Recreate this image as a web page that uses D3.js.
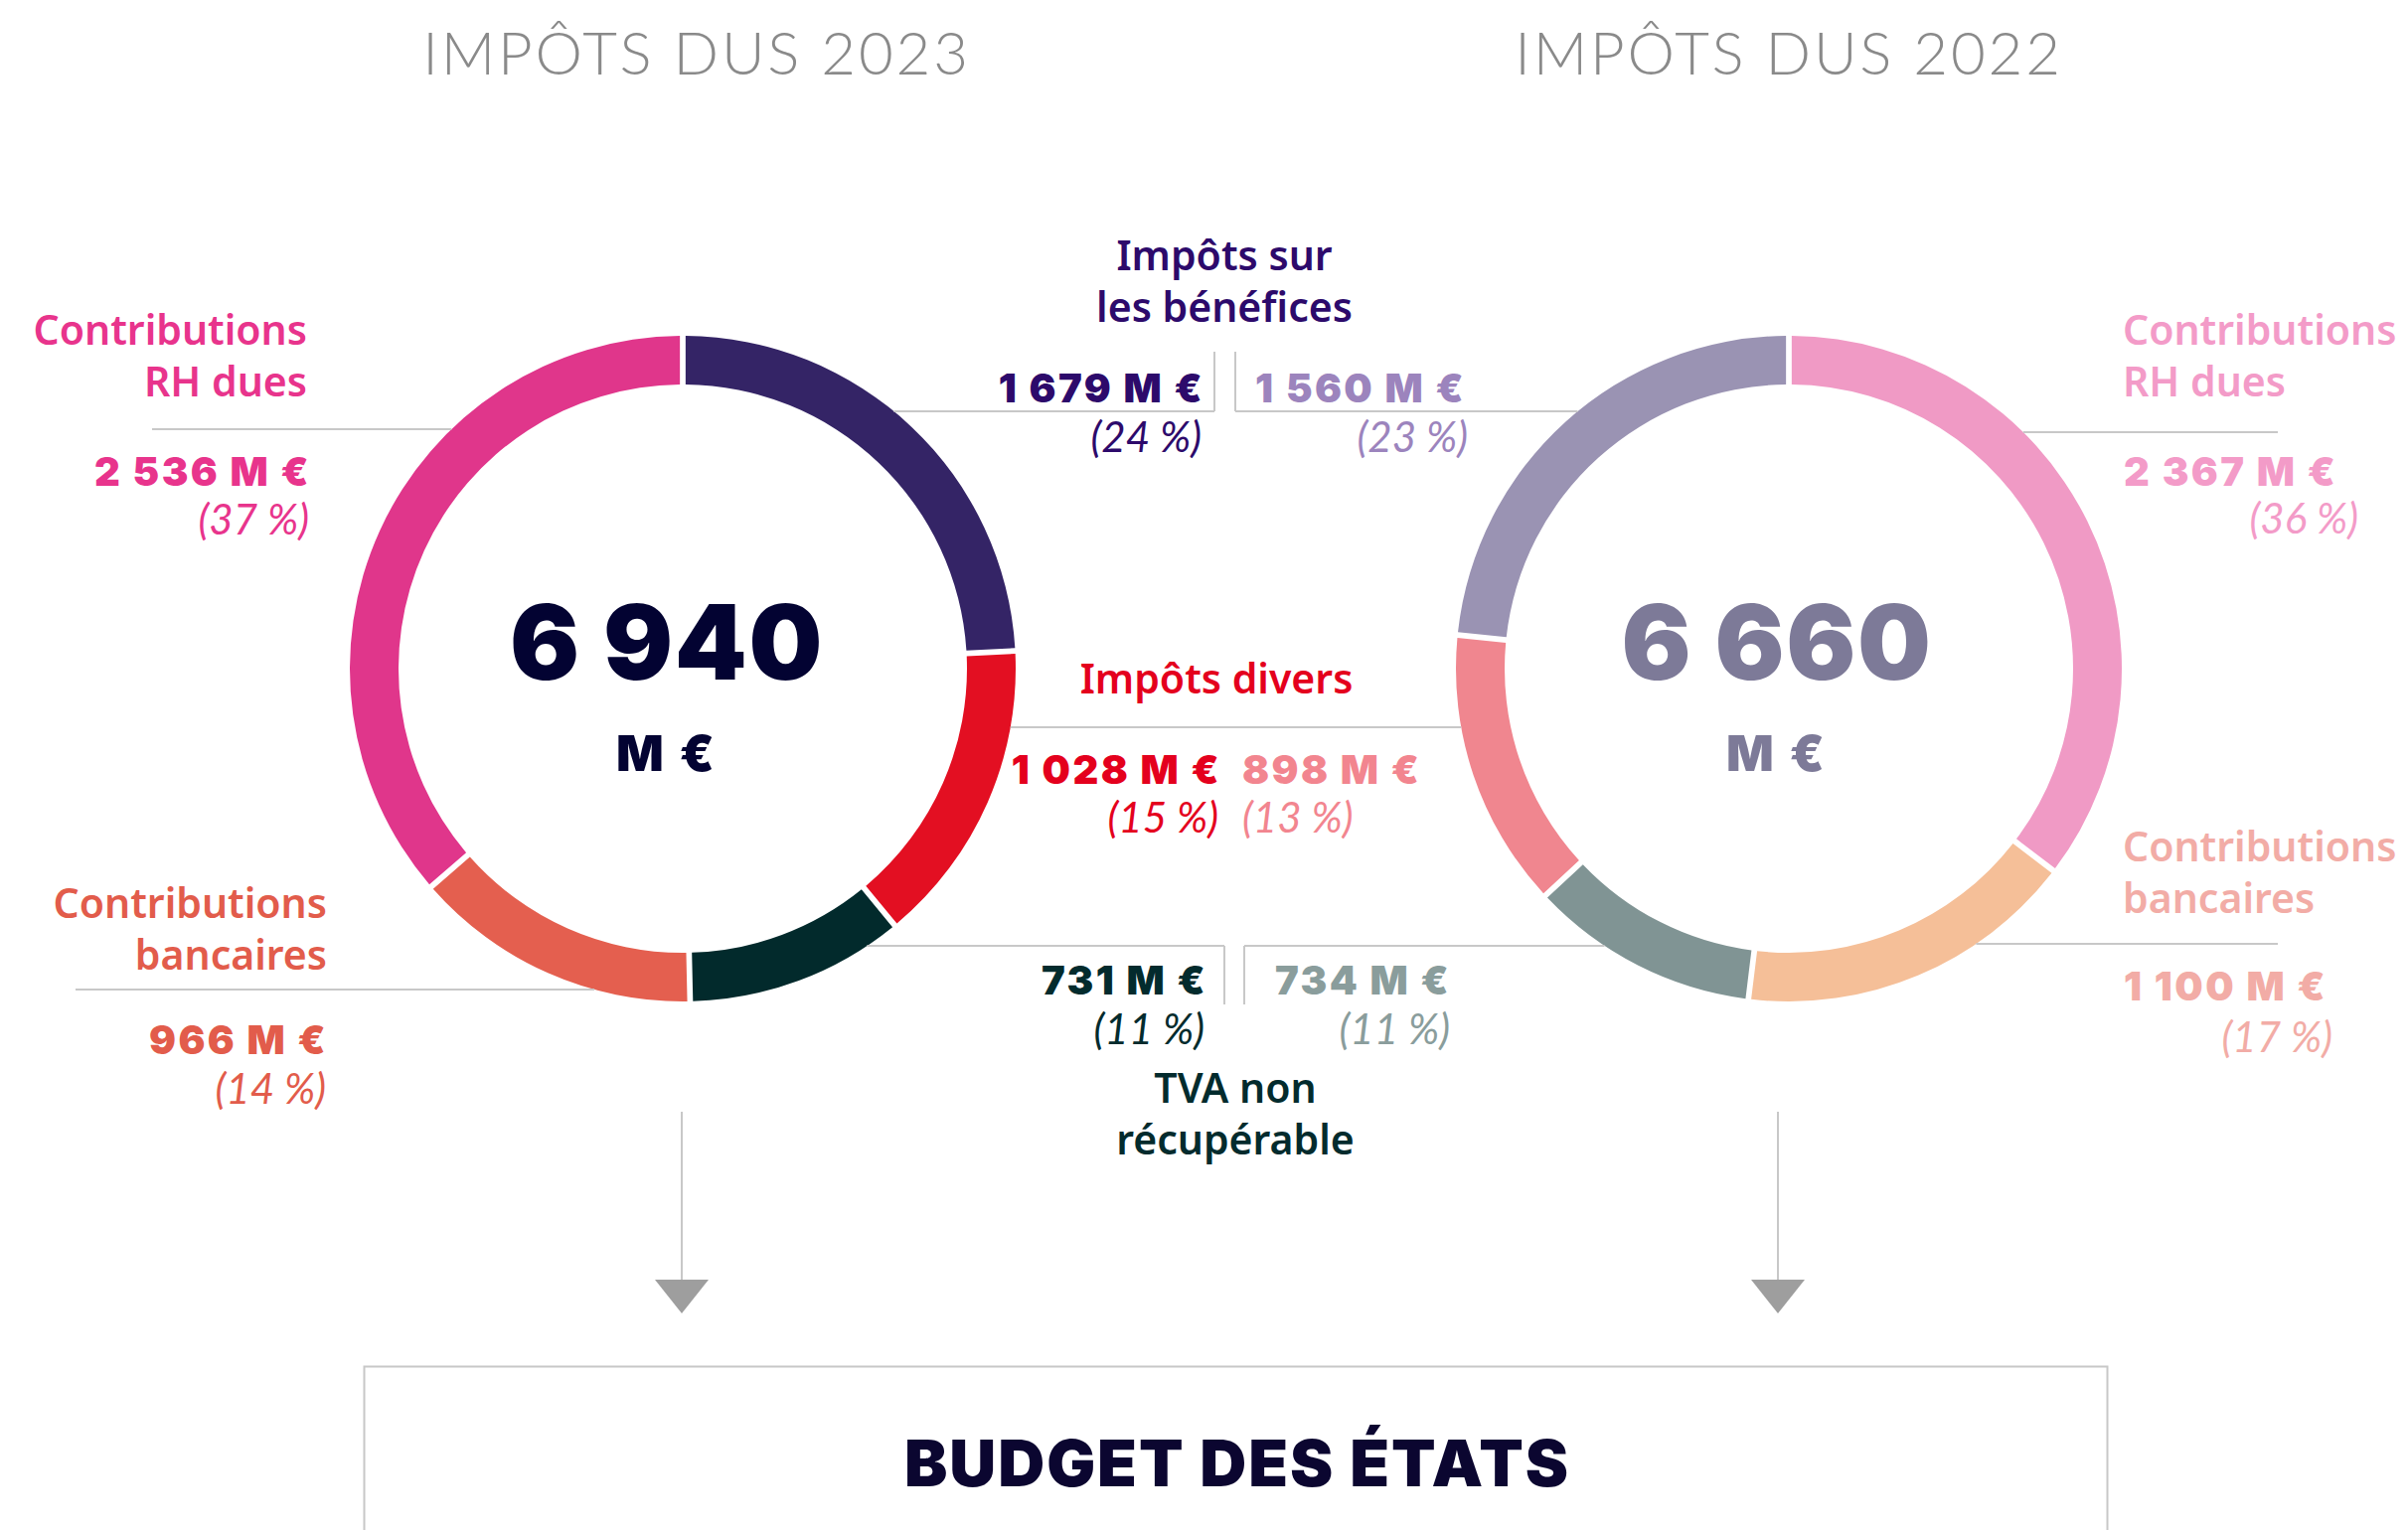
<!DOCTYPE html>
<html>
<head>
<meta charset="utf-8">
<script src="https://cdn.jsdelivr.net/npm/d3@7"></script>
<style>
  body { margin: 0; background: #fff; }
  .name { font-family: "Noto Sans", sans-serif; font-weight: 600; font-size: 41px; }
  .val { font-family: Inter, sans-serif; font-weight: 900; font-size: 40px; letter-spacing: 0.06em; }
  .pct { font-family: Lato, sans-serif; font-weight: 400; font-style: italic; font-size: 42px; }
  .title { font-family: Lato, sans-serif; font-weight: 300; font-size: 60px; letter-spacing: 2.8px; fill: #8a8a8a; }
</style>
</head>
<body>
<svg id="chart" width="2423" height="1540"></svg>
<script>
// Data
const titles = ['IMPÔTS DUS 2023', 'IMPÔTS DUS 2022'];
const totals = [6940, 6660];
const categories = ['Impôts sur les bénéfices', 'Impôts divers', 'TVA non récupérable', 'Contributions bancaires', 'Contributions RH dues'];
const values2023 = [1679, 1028, 731, 966, 2536];
const values2022 = [1560, 898, 734, 1100, 2367];
const pct2023 = [24, 15, 11, 14, 37];
const pct2022 = [23, 13, 11, 17, 36];

// colours
const arcColors2023 = ['#342466', '#e30f22', '#022a2c', '#e45f4f', '#e0368b'];
const arcColors2022 = ['#9a93b3', '#f0868f', '#809494', '#f5bf98', '#f09ac5'];
const textColors2023 = ['#2d0a6b', '#e4001d', '#032b2d', '#e25c4b', '#e8348c'];
const textColors2022 = ['#9c84bd', '#f2858f', '#8a9d9c', '#f2aca6', '#f39bc8'];

const svg = d3.select('#chart');
const fmt = d3.formatLocale({ decimal: ',', thousands: '\u00a0', grouping: [3], currency: ['', ' €'] }).format(',d');
const valText = v => `${fmt(v)} M €`;
const pctText = p => `(${p} %)`;

const cy = 673, rOuter = 335, rInner = 286;
const centers = [687, 1800];
const ruleColor = '#c8c8c8';

const arc = d3.arc().innerRadius(rInner).outerRadius(rOuter);
const pie = d3.pie().sort(null).padAngle(0.013);

// left donut clockwise from top: bénéfices first; right donut clockwise: RH first
function donut(i, values, colors, order) {
  const g = svg.append('g').attr('transform', `translate(${centers[i]},${cy})`);
  const data = order.map(k => ({ k, v: values[k] }));
  g.selectAll('path')
    .data(pie.value(d => d.v)(data))
    .enter()
    .append('path')
    .attr('d', arc)
    .attr('fill', d => colors[d.data.k]);
}
donut(0, values2023, arcColors2023, [0, 1, 2, 3, 4]);
donut(1, values2022, arcColors2022, [4, 3, 2, 1, 0]);

// titles
titles.forEach((t, i) => {
  svg.append('text').attr('class', 'title')
    .attr('x', centers[i] + (i === 0 ? 14 : 0)).attr('y', 75)
    .attr('text-anchor', 'middle').text(t);
});

// centre totals
const totalColors = ['#030332', '#7d7a98'];
totals.forEach((t, i) => {
  const x = centers[i] - (i === 0 ? 16 : 12);
  svg.append('text').attr('x', x).attr('y', 684)
    .attr('text-anchor', 'middle')
    .style('font-family', 'Inter').style('font-weight', 900).style('font-size', '104px')
    .style('letter-spacing', '0.015em')
    .attr('fill', totalColors[i]).text(fmt(t));
  svg.append('text').attr('x', x).attr('y', 776)
    .attr('text-anchor', 'middle')
    .style('font-family', 'Inter').style('font-weight', 900).style('font-size', '50px')
    .style('letter-spacing', '0.06em')
    .attr('fill', totalColors[i]).text('M €');
});

// helpers
function line(x1, y1, x2, y2) {
  svg.append('line').attr('x1', x1).attr('y1', y1).attr('x2', x2).attr('y2', y2)
    .attr('stroke', ruleColor).attr('stroke-width', 2);
}
function edgeX(i, y, side) {
  const dy = y - cy;
  return centers[i] + side * Math.sqrt(rOuter * rOuter - dy * dy);
}
function txt(cls, x, y, anchor, color, s) {
  svg.append('text').attr('class', cls).attr('x', x).attr('y', y)
    .attr('text-anchor', anchor).attr('fill', color).text(s);
}
function nameLines(k, x, y, anchor, color, lines) {
  lines.forEach((l, j) => txt('name', x, y + j * 52, anchor, color, l));
}

// Contributions RH dues (k = 4)
nameLines(4, 309, 347, 'end', textColors2023[4], ['Contributions', 'RH dues']);
line(153, 432, edgeX(0, 432, -1), 432);
txt('val', 313, 489, 'end', textColors2023[4], valText(values2023[4]));
txt('pct', 311, 538, 'end', textColors2023[4], pctText(pct2023[4]));

nameLines(4, 2136, 347, 'start', textColors2022[4], ['Contributions', 'RH dues']);
line(edgeX(1, 435, 1), 435, 2292, 435);
txt('val', 2137, 489, 'start', textColors2022[4], valText(values2022[4]));
txt('pct', 2373, 537, 'end', textColors2022[4], pctText(pct2022[4]));

// Contributions bancaires (k = 3)
nameLines(3, 329, 924, 'end', textColors2023[3], ['Contributions', 'bancaires']);
line(76, 996, edgeX(0, 996, -1), 996);
txt('val', 330, 1061, 'end', textColors2023[3], valText(values2023[3]));
txt('pct', 328, 1111, 'end', textColors2023[3], pctText(pct2023[3]));

nameLines(3, 2136, 867, 'start', textColors2022[3], ['Contributions', 'bancaires']);
line(edgeX(1, 950, 1), 950, 2292, 950);
txt('val', 2137, 1007, 'start', textColors2022[3], valText(values2022[3]));
txt('pct', 2347, 1059, 'end', textColors2022[3], pctText(pct2022[3]));

// Impôts sur les bénéfices (k = 0)
nameLines(0, 1232, 272, 'middle', textColors2023[0], ['Impôts sur', 'les bénéfices']);
line(edgeX(0, 414, 1), 414, 1222, 414);
line(1222, 354, 1222, 414);
line(1243, 354, 1243, 414);
line(1243, 414, edgeX(1, 414, -1), 414);
txt('val', 1212, 405, 'end', textColors2023[0], valText(values2023[0]));
txt('pct', 1209, 455, 'end', textColors2023[0], pctText(pct2023[0]));
txt('val', 1475, 405, 'end', textColors2022[0], valText(values2022[0]));
txt('pct', 1477, 455, 'end', textColors2022[0], pctText(pct2022[0]));

// Impôts divers (k = 1)
nameLines(1, 1224, 698, 'middle', textColors2023[1], ['Impôts divers']);
line(edgeX(0, 732, 1), 732, edgeX(1, 732, -1), 732);
txt('val', 1229, 789, 'end', textColors2023[1], valText(values2023[1]));
txt('pct', 1226, 838, 'end', textColors2023[1], pctText(pct2023[1]));
txt('val', 1250, 789, 'start', textColors2022[1], valText(values2022[1]));
txt('pct', 1250, 838, 'start', textColors2022[1], pctText(pct2022[1]));

// TVA non récupérable (k = 2)
line(edgeX(0, 952, 1), 952, 1232, 952);
line(1232, 952, 1232, 1011);
line(1252, 952, 1252, 1011);
line(1252, 952, edgeX(1, 952, -1), 952);
txt('val', 1215, 1001, 'end', textColors2023[2], valText(values2023[2]));
txt('pct', 1212, 1051, 'end', textColors2023[2], pctText(pct2023[2]));
txt('val', 1460, 1001, 'end', textColors2022[2], valText(values2022[2]));
txt('pct', 1459, 1051, 'end', textColors2022[2], pctText(pct2022[2]));
nameLines(2, 1243, 1110, 'middle', textColors2023[2], ['TVA non', 'récupérable']);

// arrows down to the budget box
[686, 1789].forEach(x => {
  line(x, 1119, x, 1288);
  svg.append('path')
    .attr('d', `M${x - 27},1288 L${x + 27},1288 L${x},1322 Z`)
    .attr('fill', '#9e9e9e');
});

// budget box
svg.append('rect').attr('x', 366.5).attr('y', 1375.5).attr('width', 1754).attr('height', 200)
  .attr('fill', 'none').attr('stroke', ruleColor).attr('stroke-width', 2);
svg.append('text').attr('x', 1245).attr('y', 1496).attr('text-anchor', 'middle')
  .style('font-family', 'Inter').style('font-weight', 900).style('font-size', '65px')
  .style('letter-spacing', '0.03em')
  .attr('fill', '#0b0630').text('BUDGET DES ÉTATS');
</script>
</body>
</html>
